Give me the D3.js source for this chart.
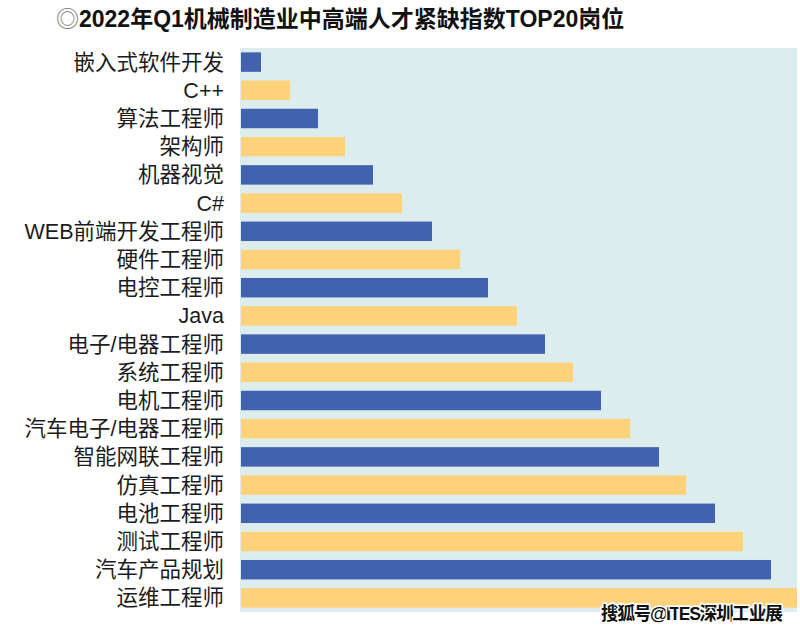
<!DOCTYPE html>
<html><head><meta charset="utf-8">
<script src="https://cdn.jsdelivr.net/npm/d3@7"></script>
<style>
html,body{margin:0;padding:0;background:#fff;}
svg{display:block;}
</style></head>
<body>
<svg id="chart" width="800" height="631"></svg>
<script>
const categories = ["嵌入式软件开发","C++","算法工程师","架构师","机器视觉","C#","WEB前端开发工程师","硬件工程师","电控工程师","Java","电子/电器工程师","系统工程师","电机工程师","汽车电子/电器工程师","智能网联工程师","仿真工程师","电池工程师","测试工程师","汽车产品规划","运维工程师"];
const values = [20,49,77,104,132,161,191,219,247,276,304,332,360,389,418,445,474,502,530,556];
const colors = ["#4262b0","#fed27b"];
const titleText = "2022年Q1机械制造业中高端人才紧缺指数TOP20岗位";
const watermark = "搜狐号@ITES深圳工业展";

const svg = d3.select("#chart");
const font = "'Liberation Sans','Noto Sans CJK SC',sans-serif";

const panel = {x0:240, x1:797, y0:48, y1:612};
svg.append("rect").attr("x",panel.x0).attr("y",panel.y0)
  .attr("width",panel.x1-panel.x0).attr("height",panel.y1-panel.y0)
  .attr("fill","#ddeded");

const x = d3.scaleLinear().domain([0,556]).range([241,797]);
const y = d3.scaleBand().domain(categories).range([panel.y0,panel.y1]).paddingInner(0.31).paddingOuter(0.155);

svg.append("g").selectAll("rect").data(categories).join("rect")
  .attr("x",x(0)).attr("y",d=>y(d))
  .attr("width",(d,i)=>x(values[i])-x(0))
  .attr("height",y.bandwidth())
  .attr("fill",(d,i)=>colors[i%2]);

const yAxis = d3.axisLeft(y).tickSize(0).tickPadding(0);
const ga = svg.append("g").attr("transform","translate(224,0)").call(yAxis);
ga.select(".domain").remove();
ga.selectAll("text").attr("font-family",font).attr("font-size",21.5).attr("fill","#1c1c1c").attr("dy","0.35em");

const t = svg.append("text").attr("x",56).attr("y",27).attr("font-family",font).attr("font-size",23);
t.append("tspan").text("◎").attr("fill","#777").attr("font-weight","normal");
t.append("tspan").text(titleText).attr("fill","#111").attr("font-weight","bold");

svg.append("text").attr("x",601).attr("y",620).attr("font-family",font).attr("font-size",18)
  .attr("font-weight","bold").attr("fill","#111").attr("stroke","#fff").attr("stroke-width",3)
  .attr("paint-order","stroke").attr("textLength",182).text(watermark);
</script>
</body></html>
